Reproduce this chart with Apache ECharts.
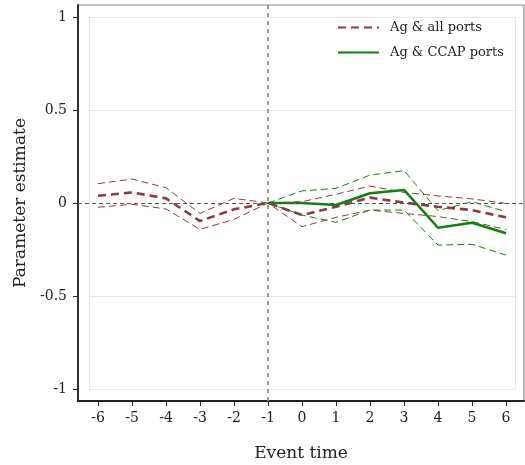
<!DOCTYPE html>
<html><head><meta charset="utf-8">
<script src="https://cdn.jsdelivr.net/npm/echarts@6/dist/echarts.min.js"></script>
<style>html,body{margin:0;padding:0;background:#fff}#c{width:525px;height:465px}</style>
</head><body><div id="c"></div>
<script>
const eventTime = [-6,-5,-4,-3,-2,-1,0,1,2,3,4,5,6];
const xTicks = [-6,-5,-4,-3,-2,-1,0,1,2,3,4,5,6];
const yTicks = [-1,-0.5,0,0.5,1];
const allEst   = [0.039,0.057,0.025,-0.097,-0.034,0,-0.065,-0.020,0.029,0.002,-0.020,-0.038,-0.077];
const allUpper = [0.104,0.129,0.082,-0.056,0.025,0,0.007,0.047,0.091,0.057,0.038,0.022,-0.002];
const allLower = [-0.023,-0.007,-0.032,-0.142,-0.088,0,-0.127,-0.077,-0.038,-0.056,-0.073,-0.100,-0.142];
const ccapTime  = [-1,0,1,2,3,4,5,6];
const ccapEst   = [0,0,-0.011,0.052,0.070,-0.133,-0.106,-0.163];
const ccapUpper = [0,0.065,0.079,0.150,0.174,-0.041,0.007,-0.047];
const ccapLower = [0,-0.065,-0.104,-0.038,-0.038,-0.226,-0.222,-0.280];

const MAROON = '#8e3a40', GREEN = '#0a850a';
const FONT = 'DejaVu Serif';
const pair = (xs, ys) => xs.map((x,i)=>[x, ys[i]]);

const chart = echarts.init(document.getElementById('c'), null, {renderer:'canvas'});
const gx0 = -6.26, gx1 = 6.26;
const gridColor = '#e6e6e6';
const boxLines = [
  [{coord:[gx0,1]},{coord:[gx1,1]}],
  [{coord:[gx0,0.5]},{coord:[gx1,0.5]}],
  [{coord:[gx0,-0.5]},{coord:[gx1,-0.5]}],
  [{coord:[gx0,-1]},{coord:[gx1,-1]}],
  [{coord:[gx0,-1]},{coord:[gx0,1]}],
  [{coord:[gx1,-1]},{coord:[gx1,1]}]
];
chart.setOption({
  animation:false,
  textStyle:{fontFamily:FONT},
  grid:{left:78, top:5, right:1, bottom:64, show:true, borderColor:'#8a8a8a', borderWidth:1.2,
        containLabel:false, outerBoundsMode:'none'},
  legend:{
    data:['Ag & all ports','Ag & CCAP ports'],
    orient:'vertical', left:332, top:16, itemWidth:41, itemHeight:14, itemGap:12,
    itemStyle:{opacity:0},
    textStyle:{fontFamily:FONT, fontSize:13, color:'#222', padding:[0,0,0,6]}
  },
  xAxis:{
    type:'value', min:-6.588, max:6.529,
    name:'Event time', nameLocation:'middle', nameGap:44,
    nameTextStyle:{fontFamily:FONT, fontSize:17, color:'#222'},
    axisLine:{show:true, onZero:false, lineStyle:{color:'#222', width:1.8}},
    axisTick:{show:true, length:5, customValues:xTicks, lineStyle:{color:'#222'}},
    axisLabel:{customValues:xTicks, fontFamily:FONT, fontSize:14, color:'#222', margin:10},
    splitLine:{show:false}
  },
  yAxis:{
    type:'value', min:-1.064, max:1.064,
    name:'Parameter estimate', nameLocation:'middle', nameGap:48,
    nameTextStyle:{fontFamily:FONT, fontSize:17, color:'#222'},
    axisLine:{show:true, onZero:false, lineStyle:{color:'#222', width:1.8}},
    axisTick:{show:true, length:5, customValues:yTicks, lineStyle:{color:'#222'}},
    axisLabel:{customValues:yTicks, fontFamily:FONT, fontSize:14, color:'#222', margin:11},
    splitLine:{show:false}
  },
  series:[
    {type:'line', name:'box', data:[], silent:true,
     markLine:{symbol:'none', silent:true, label:{show:false},
       lineStyle:{color:gridColor, width:1, type:'solid'}, data:boxLines}},
    {type:'line', name:'ref', data:[], silent:true,
     markLine:{symbol:'none', silent:true, label:{show:false},
       lineStyle:{color:'#555', width:1, type:[4,3]},
       data:[{yAxis:0},{xAxis:-1, lineStyle:{color:'#8f8f8f', width:1.8, type:[4,4]}}]}},
    {type:'line', name:'all_upper', data:pair(eventTime, allUpper), symbol:'none',
     lineStyle:{color:MAROON, width:1, type:[7,4]}},
    {type:'line', name:'all_lower', data:pair(eventTime, allLower), symbol:'none',
     lineStyle:{color:MAROON, width:1, type:[7,4]}},
    {type:'line', name:'ccap_upper', data:pair(ccapTime, ccapUpper), symbol:'none',
     lineStyle:{color:GREEN, width:1, type:[7,4]}},
    {type:'line', name:'ccap_lower', data:pair(ccapTime, ccapLower), symbol:'none',
     lineStyle:{color:GREEN, width:1, type:[7,4]}},
    {type:'line', name:'Ag & all ports', data:pair(eventTime, allEst), symbol:'none', color:MAROON,
     lineStyle:{color:MAROON, width:2.6, type:[8,5]}},
    {type:'line', name:'Ag & CCAP ports', data:pair(ccapTime, ccapEst), symbol:'none', color:GREEN,
     lineStyle:{color:GREEN, width:2.6, type:'solid'}}
  ]
});
</script></body></html>
